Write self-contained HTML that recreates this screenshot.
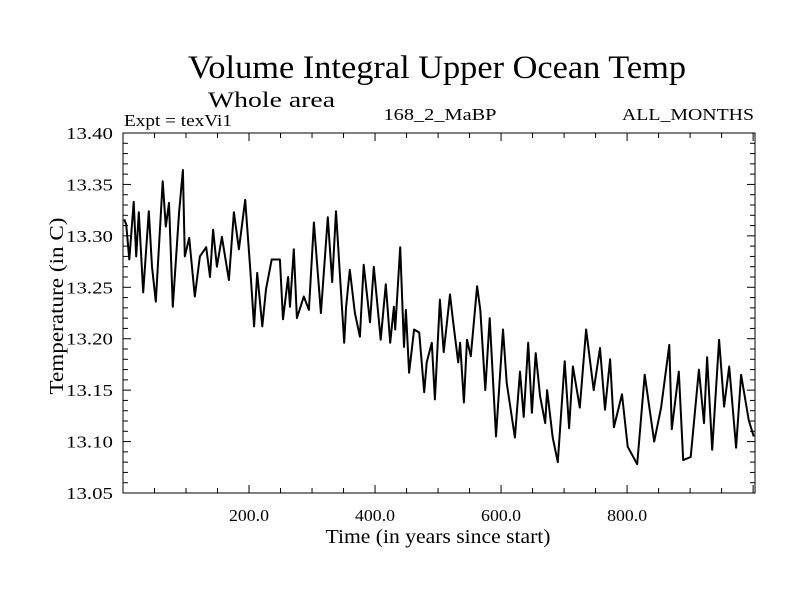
<!DOCTYPE html>
<html><head><meta charset="utf-8"><style>
body{margin:0;background:#fff;}
svg{display:block;font-family:"Liberation Serif",serif;}
</style></head><body>
<svg id="chart" width="800" height="600" viewBox="0 0 800 600">
<text x="437" y="78" font-size="33" text-anchor="middle" textLength="498" lengthAdjust="spacingAndGlyphs">Volume Integral Upper Ocean Temp</text>
<text x="208" y="107" font-size="22" textLength="127" lengthAdjust="spacingAndGlyphs">Whole area</text>
<text x="124" y="126" font-size="17" textLength="108" lengthAdjust="spacingAndGlyphs">Expt = texVi1</text>
<text x="440" y="120" font-size="17" text-anchor="middle" textLength="113" lengthAdjust="spacingAndGlyphs">168_2_MaBP</text>
<text x="754" y="120" font-size="17" text-anchor="end" textLength="132" lengthAdjust="spacingAndGlyphs">ALL_MONTHS</text>
<text transform="translate(63,306) rotate(-90)" font-size="20" text-anchor="middle" textLength="177" lengthAdjust="spacingAndGlyphs">Temperature (in C)</text>
<text x="438" y="543" font-size="20" text-anchor="middle" textLength="225" lengthAdjust="spacingAndGlyphs">Time (in years since start)</text>
<g id="axes"></g>
<path id="series" fill="none" stroke="#000" stroke-width="2" stroke-linejoin="round"/>
<rect x="123" y="133" width="632" height="360" fill="none" stroke="#000" stroke-width="1"/>
</svg>
<script>
const years=[2,5,10,17,21,25,32,41,46,52,63,68,73,79,89,95,98,105,114,122,132,138,143,149,157,168,176,184,194,202,208,213,221,227,236,249,254,262,265,271,276,287,295,303,314,325,332,338,344,351,354,360,368,376,382,392,398,403,409,417,424,430,432,440,446,449,454,462,470,478,482,490,495,503,509,519,524,532,535,541,546,552,562,567,575,582,592,603,609,622,630,636,643,649,655,662,670,673,682,690,701,708,714,725,735,747,757,765,773,779,792,801,816,828,843,854,867,871,882,889,901,914,922,927,935,946,954,962,973,981,993,1001];
const temps=[13.316,13.311,13.277,13.333,13.280,13.323,13.245,13.324,13.270,13.236,13.353,13.309,13.332,13.231,13.323,13.364,13.280,13.298,13.241,13.280,13.289,13.260,13.306,13.270,13.299,13.257,13.323,13.287,13.335,13.267,13.212,13.264,13.212,13.248,13.277,13.277,13.219,13.260,13.231,13.287,13.220,13.241,13.228,13.313,13.225,13.318,13.255,13.324,13.264,13.196,13.231,13.267,13.225,13.202,13.272,13.216,13.270,13.238,13.199,13.253,13.196,13.231,13.209,13.289,13.192,13.228,13.167,13.209,13.206,13.148,13.177,13.196,13.141,13.238,13.187,13.243,13.216,13.177,13.196,13.138,13.199,13.183,13.251,13.228,13.150,13.220,13.105,13.209,13.157,13.104,13.168,13.124,13.196,13.128,13.186,13.144,13.118,13.150,13.104,13.080,13.178,13.113,13.173,13.133,13.209,13.150,13.191,13.131,13.180,13.114,13.146,13.095,13.078,13.165,13.100,13.133,13.194,13.112,13.168,13.082,13.085,13.170,13.118,13.182,13.092,13.199,13.134,13.173,13.094,13.165,13.121,13.105];
const yTickLabels=["13.05","13.10","13.15","13.20","13.25","13.30","13.35","13.40"];
const xTickLabels=["200.0","400.0","600.0","800.0"];
const L=123,R=755,T=133,B=493,X0=0,X1=1003,Y0=13.05,Y1=13.40;
const sx=v=>L+(v-X0)/(X1-X0)*(R-L);
const sy=v=>B-(v-Y0)/(Y1-Y0)*(B-T);
const NS="http://www.w3.org/2000/svg";
const g=document.getElementById('axes');
function line(x1,y1,x2,y2,name){const l=document.createElementNS(NS,'line');
l.setAttribute('x1',x1);l.setAttribute('y1',y1);l.setAttribute('x2',x2);l.setAttribute('y2',y2);
l.setAttribute('stroke','#000');l.setAttribute('stroke-width','1');


g.appendChild(l);}
function text(x,y,s,anchor,w,name){const t=document.createElementNS(NS,'text');
t.setAttribute('x',x);t.setAttribute('y',y);t.setAttribute('font-size','17');t.setAttribute('text-anchor',anchor);
t.setAttribute('textLength',w);t.setAttribute('lengthAdjust','spacingAndGlyphs');t.textContent=s;


g.appendChild(t);}
for(let i=0;i<=35;i++){const v=Y0+i*0.01;const y=sy(v);const len=(i%5==0)?8:5;
line(L,y,L+len,y,'y-tick');line(R,y,R-len,y,'y-tick');}
yTickLabels.forEach(s=>text(113,sy(parseFloat(s))+6,s,'end',47,'y-tick-label'));
for(let v=50;v<X1;v+=50){const x=sx(v);const len=(v%200==0)?8:5;
line(x,B,x,B-len,'x-tick');line(x,T,x,T+len,'x-tick');}
xTickLabels.forEach(s=>text(sx(parseFloat(s)),521,s,'middle',40,'x-tick-label'));
let d='';years.forEach((yr,i)=>{d+=(i?'L':'M')+sx(yr).toFixed(1)+','+sy(temps[i]).toFixed(1);});
document.getElementById('series').setAttribute('d',d);
</script>
</body></html>
